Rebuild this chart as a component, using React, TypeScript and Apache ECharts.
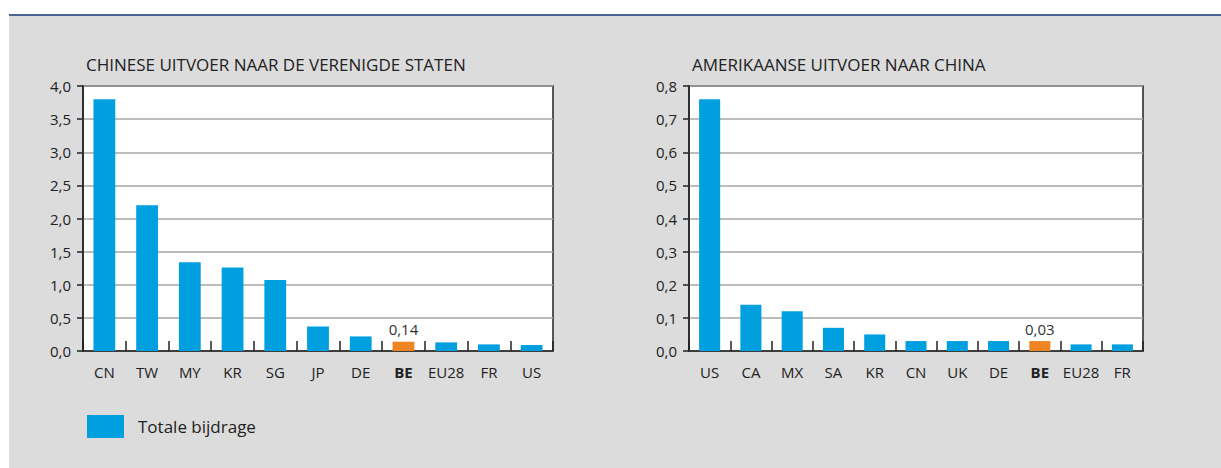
import React, { useEffect, useRef } from "react";
import * as echarts from "echarts";

// Chinese exports to the United States
const leftCategories = ["CN", "TW", "MY", "KR", "SG", "JP", "DE", "BE", "EU28", "FR", "US"];
const leftValues = [3.8, 2.2, 1.34, 1.26, 1.07, 0.37, 0.22, 0.14, 0.13, 0.1, 0.09];

// American exports to China
const rightCategories = ["US", "CA", "MX", "SA", "KR", "CN", "UK", "DE", "BE", "EU28", "FR"];
const rightValues = [0.76, 0.14, 0.12, 0.07, 0.05, 0.03, 0.03, 0.03, 0.03, 0.02, 0.02];

const leftTitle = "CHINESE UITVOER NAAR DE VERENIGDE STATEN";
const rightTitle = "AMERIKAANSE UITVOER NAAR CHINA";
const seriesName = "Totale bijdrage";
const highlight = "BE";

const BLUE = "#009fe0";
const ORANGE = "#ef8422";
const TEXT = "#222222";
const FONT = "'Open Sans', 'Noto Sans', sans-serif";

const fmt = (d: number) => (v: number) => v.toFixed(d).replace(".", ",");

function categoryData(cats: string[]) {
  return cats.map((c) =>
    c === highlight ? { value: c, textStyle: { fontWeight: "bold" } } : c
  );
}

function barData(cats: string[], vals: number[], decimals: number) {
  return vals.map((v, i) =>
    cats[i] === highlight
      ? {
          value: v,
          itemStyle: { color: ORANGE },
          label: {
            show: true,
            position: "top",
            distance: 5,
            formatter: () => fmt(decimals)(v),
            color: "#333",
            fontSize: 15,
            fontFamily: FONT,
          },
        }
      : v
  );
}

export default function App() {
  const ref = useRef<HTMLDivElement>(null);

  useEffect(() => {
    document.body.style.margin = "0";
    const chart = echarts.init(ref.current!, undefined, { renderer: "svg" });

    const xAxisBase = (gridIndex: number, cats: string[]) => ({
      type: "category",
      gridIndex,
      data: categoryData(cats),
      axisLine: { lineStyle: { color: TEXT, width: 1.5 } },
      axisTick: {
        show: true,
        inside: true,
        length: 10,
        interval: 0,
        lineStyle: { color: TEXT, width: 1.5 },
      },
      axisLabel: { color: TEXT, fontSize: 15, fontFamily: FONT, margin: 13, interval: 0 },
    });

    const yAxisBase = (gridIndex: number, max: number, interval: number, decimals: number) => ({
      type: "value",
      gridIndex,
      min: 0,
      max,
      interval,
      axisLine: { show: true, lineStyle: { color: TEXT, width: 1.5 } },
      axisTick: { show: true, length: 6, lineStyle: { color: TEXT, width: 1.5 } },
      axisLabel: { color: TEXT, fontSize: 15, fontFamily: FONT, margin: 12, formatter: fmt(decimals) },
      splitLine: { lineStyle: { color: "#a6a6a6", width: 1.5 } },
    });

    const titleStyle = { color: TEXT, fontSize: 17, fontWeight: "normal", fontFamily: FONT };

    chart.setOption({
      animation: false,
      backgroundColor: "#ffffff",
      graphic: [
        { type: "rect", shape: { x: 9, y: 14, width: 1212, height: 454 }, style: { fill: "#dcdcdc" }, z: -10 },
        { type: "rect", shape: { x: 9, y: 14, width: 1212, height: 2 }, style: { fill: "#4a6592" }, z: -9 },
      ],
      title: [
        { text: leftTitle, left: 81, top: 51, textStyle: titleStyle },
        { text: rightTitle, left: 687, top: 51, textStyle: titleStyle },
      ],
      legend: {
        left: 82,
        top: 410,
        itemWidth: 37,
        itemHeight: 23,
        data: [{ name: seriesName, icon: "rect" }],
        textStyle: { color: TEXT, fontSize: 17, fontFamily: FONT, padding: [0, 0, 0, 9] },
      },
      grid: [
        {
          left: 83,
          top: 86,
          width: 470,
          height: 265,
          show: true,
          backgroundColor: "#ffffff",
          borderColor: TEXT,
          borderWidth: 1.5,
        },
        {
          left: 689,
          top: 86,
          width: 454,
          height: 265,
          show: true,
          backgroundColor: "#ffffff",
          borderColor: TEXT,
          borderWidth: 1.5,
        },
      ],
      xAxis: [xAxisBase(0, leftCategories), xAxisBase(1, rightCategories)],
      yAxis: [yAxisBase(0, 4, 0.5, 1), yAxisBase(1, 0.8, 0.1, 1)],
      series: [
        {
          name: seriesName,
          type: "bar",
          xAxisIndex: 0,
          yAxisIndex: 0,
          barWidth: "51%",
          itemStyle: { color: BLUE },
          data: barData(leftCategories, leftValues, 2),
        },
        {
          name: seriesName,
          type: "bar",
          xAxisIndex: 1,
          yAxisIndex: 1,
          barWidth: "51%",
          itemStyle: { color: BLUE },
          data: barData(rightCategories, rightValues, 2),
        },
      ],
    });

    return () => chart.dispose();
  }, []);

  return <div ref={ref} style={{ position: "absolute", left: 0, top: 0, width: 1221, height: 468 }} />;
}
